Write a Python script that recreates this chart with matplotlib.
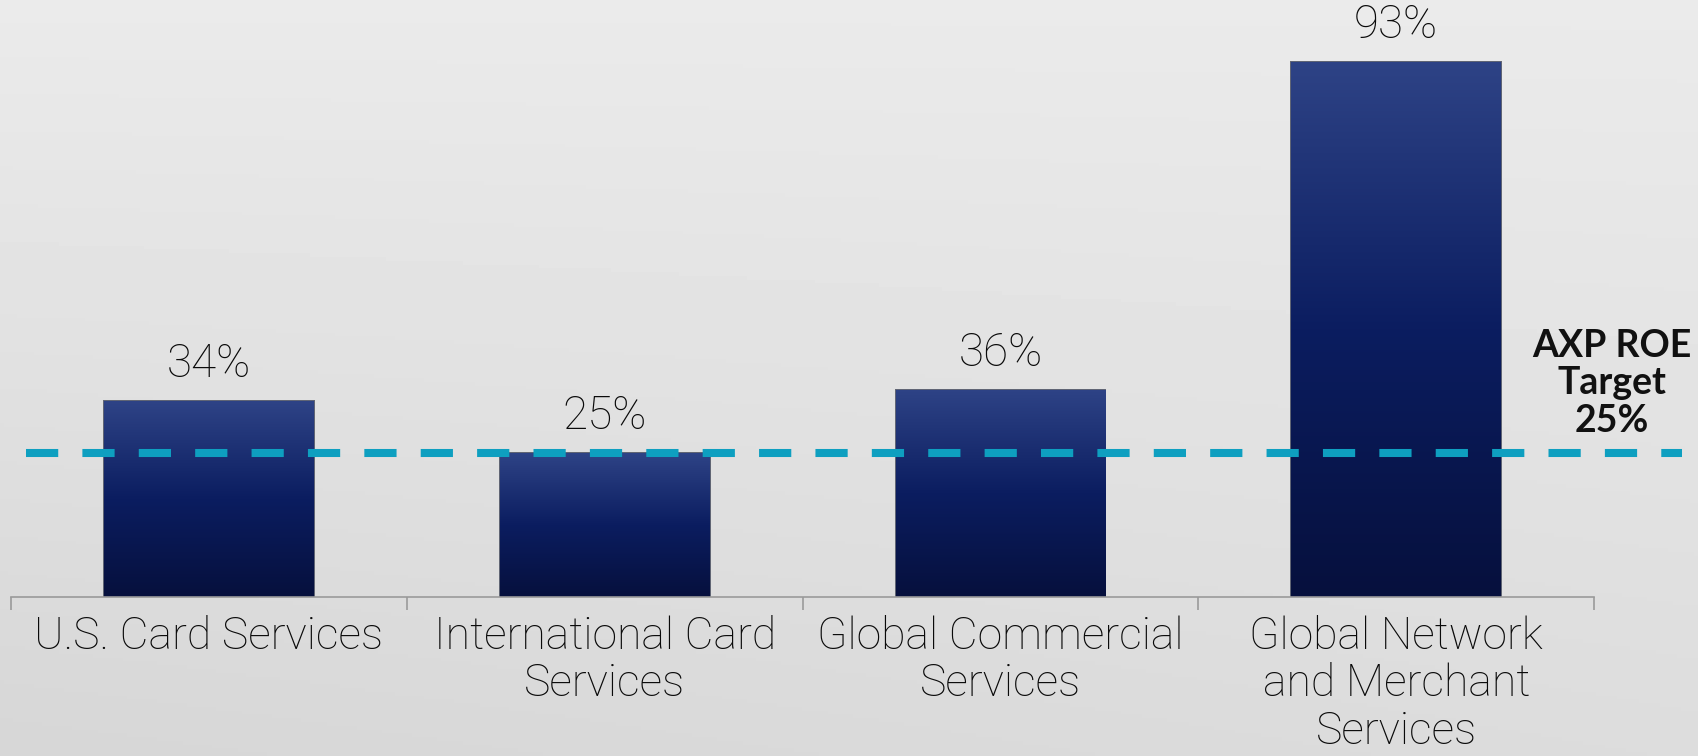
import numpy as np
import matplotlib.pyplot as plt
from matplotlib.lines import Line2D
from matplotlib.colors import LinearSegmentedColormap
import matplotlib.transforms as mtransforms

segments = ["U.S. Card Services", "International Card\nServices",
            "Global Commercial\nServices", "Global Network\nand Merchant\nServices"]
roe = [34, 25, 36, 93]
target = 25
target_label = "AXP ROE\nTarget\n25%"

plt.rcParams['font.family'] = ['Roboto', 'DejaVu Sans']

fig = plt.figure(figsize=(16.98, 7.56), dpi=100)

# soft grey backdrop
bg = fig.add_axes([0, 0, 1, 1], zorder=-10)
yy, xx = np.mgrid[0:1:200j, 0:1:400j]
shade = 0.92 - 0.08 * yy * (1 - 0.3 * xx)
bg.imshow(shade, cmap="gray", vmin=0, vmax=1, aspect="auto", extent=[0, 1, 0, 1])
bg.axis("off")

ax = fig.add_axes([0.0065, 0.2103, 0.9323, 0.761])
ax.patch.set_alpha(0)
x = np.arange(len(segments))
bars = ax.bar(x, roe, width=0.53, color="#13215e", edgecolor="#5d6272", linewidth=1.4, zorder=2)

# vertical gradient inside each bar
grad = np.linspace(0, 1, 256).reshape(-1, 1)
cmap = LinearSegmentedColormap.from_list("bar", ["#06103d", "#0b1d60", "#2e4386"])
for b in bars:
    bx, by = b.get_x(), b.get_y()
    im = ax.imshow(grad, cmap=cmap, aspect="auto", origin="lower",
                   extent=[bx, bx + b.get_width(), by, by + b.get_height()], zorder=2.5)
    im.set_clip_path(b)

for xi, v in zip(x, roe):
    ax.annotate(f"{v}%", (xi, v), xytext=(0, 11), textcoords="offset points",
                ha="center", va="bottom", fontsize=33, color="#0a0a0a", fontweight="light")

ax.set_xlim(-0.5, len(segments) - 0.5)
ax.set_ylim(0, 100)

# dashed target line runs past the axes on both sides
trans = mtransforms.blended_transform_factory(fig.transFigure, ax.transData)
ax.add_line(Line2D([26 / 1698, 1682 / 1698], [target, target], transform=trans,
                   color="#0e9fc0", linewidth=5.8, linestyle=(0, (4.0, 3.0)),
                   clip_on=False, zorder=4))
ax.text(1612 / 1698, 0.493, target_label, transform=fig.transFigure,
        ha="center", va="center", fontsize=27, fontweight="bold",
        color="#111111", linespacing=1.12, family=["Lato", "DejaVu Sans"])

for s in ["top", "right", "left"]:
    ax.spines[s].set_visible(False)
ax.spines["bottom"].set_color("#9a9a9a")
ax.spines["bottom"].set_linewidth(1.2)
ax.set_yticks([])
ax.set_xticks(np.arange(-0.5, len(segments)), minor=False)
ax.set_xticklabels([])
ax.tick_params(axis="x", which="major", length=9, color="#9a9a9a", width=1.2)
ax.set_xticks(x, minor=True)
ax.set_xticklabels(segments, minor=True, fontsize=32, color="#0a0a0a",
                   fontweight="light", linespacing=1.16)
ax.tick_params(axis="x", which="minor", length=0, pad=13)

fig.savefig("out.png", dpi=100)
